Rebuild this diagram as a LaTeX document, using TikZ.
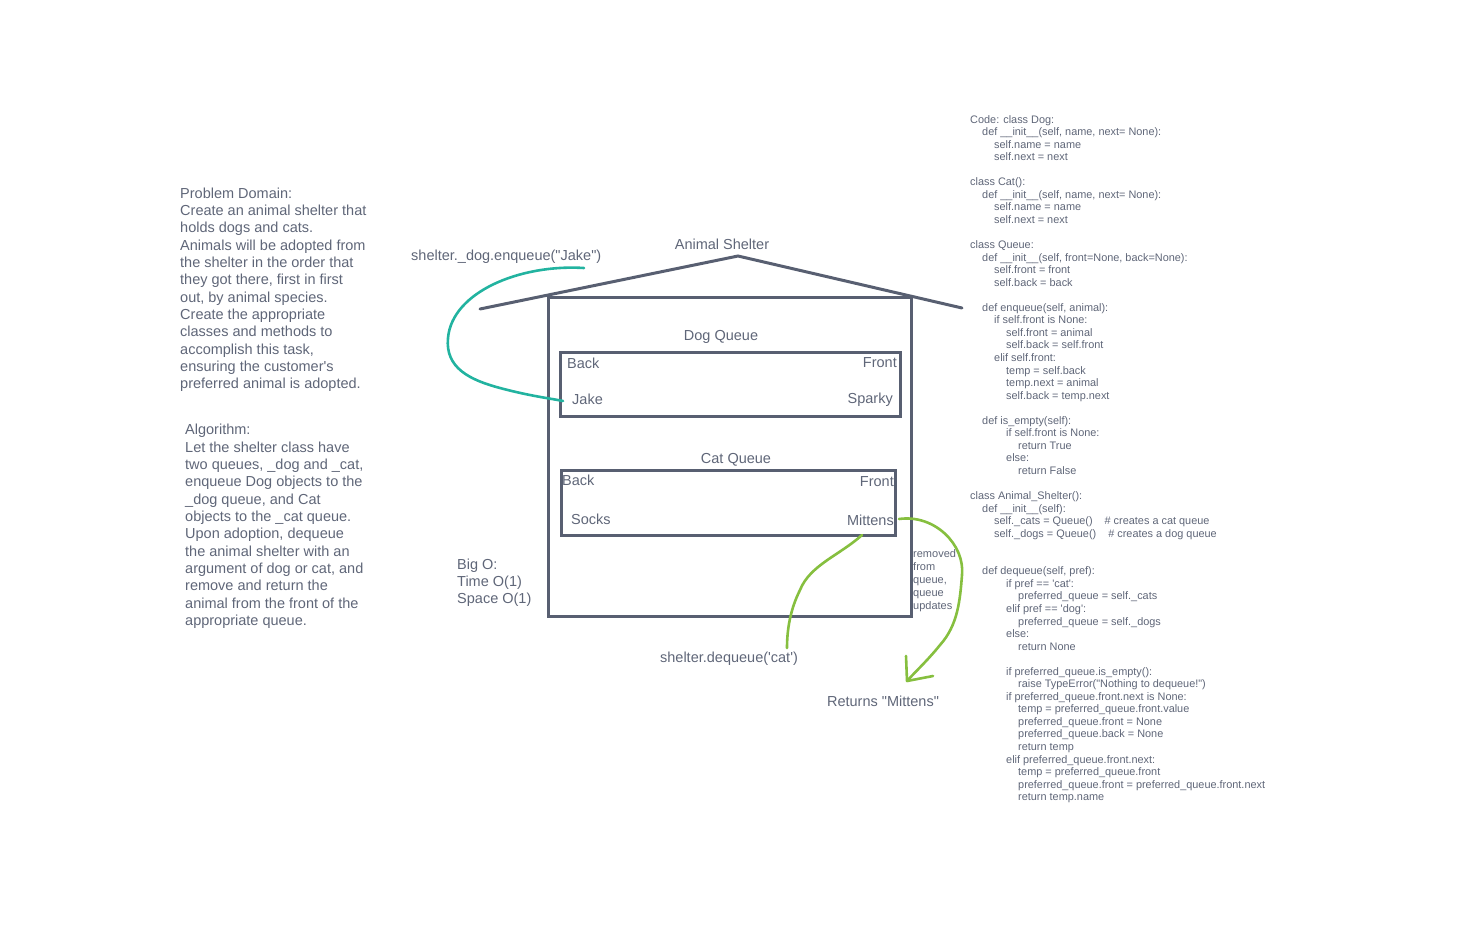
\documentclass[tikz,border=0pt]{standalone}
\usepackage{fontspec}
\setmainfont{Liberation Sans}[Ligatures=TeXOff]
\definecolor{ink}{HTML}{5F6678}
\definecolor{linec}{HTML}{585F71}
\definecolor{tealc}{HTML}{22B3A0}
\definecolor{greenc}{HTML}{86BF3F}
\tikzset{
  lbl/.style={inner sep=0pt, text=ink, font=\fontsize{14.5}{17.35}\selectfont, anchor=base},
  para/.style={inner sep=0pt, text=ink, font=\fontsize{14.5}{17.35}\selectfont, align=left, anchor=base west},
  code/.style={inner sep=0pt, text=ink, font=\fontsize{10.9}{12.55}\selectfont, anchor=base west},
  note/.style={inner sep=0pt, text=ink, font=\fontsize{11}{13}\selectfont, align=left, anchor=base west},
  wall/.style={draw=linec, line width=3pt},
  qbox/.style={draw=linec, line width=3pt, inner sep=0pt, outer sep=0pt, anchor=north west},
  tealpen/.style={draw=tealc, line width=2.6pt, line cap=round, line join=round},
  greenpen/.style={draw=greenc, line width=2.6pt, line cap=round, line join=round},
}
\newcommand\cl[3]{\node[code] (code#1) at ({970+12*#2},{123+12.55*#1}) {#3};}
\begin{document}
\begin{tikzpicture}[x=1pt,y=-1pt]
\useasboundingbox (0,0) rectangle (1471,927);
% left texts (base anchor = baseline of last line)
\node[para] (problem) at (180,388.9) {Problem Domain:\\Create an animal shelter that\\holds dogs and cats.\\Animals will be adopted from\\the shelter in the order that\\they got there, first in first\\out, by animal species.\\Create the appropriate\\classes and methods to\\accomplish this task,\\ensuring the customer's\\preferred animal is adopted.};
\node[para] (algo) at (185,625.5) {Algorithm:\\Let the shelter class have\\two queues, \_dog and \_cat,\\enqueue Dog objects to the\\\_dog queue, and Cat\\objects to the \_cat queue.\\Upon adoption, dequeue\\the animal shelter with an\\argument of dog or cat, and\\remove and return the\\animal from the front of the\\appropriate queue.};
% house
\coordinate (roofL) at (480,309);
\coordinate (peak) at (738,256);
\coordinate (roofR) at (962,308);
\draw[wall, line cap=round] (roofL) -- (peak) -- (roofR);
\node[qbox, minimum width=363pt, minimum height=319pt] (house) at (548,297.5) {};
\node[lbl] (title) at (722,249) {Animal Shelter};
% dog queue
\node[lbl] (dogq) at (721,340) {Dog Queue};
\node[qbox, minimum width=340pt, minimum height=64pt] (dogbox) at (560.5,352.5) {};
\node[lbl, anchor=base west] (dback) at (567,368) {Back};
\node[lbl, anchor=base east] (dfront) at (897,367) {Front};
\node[lbl, anchor=base west] (jake) at (572,404) {Jake};
\node[lbl, anchor=base east] (sparky) at (893,403) {Sparky};
% cat queue
\node[lbl] (catq) at (736,463) {Cat Queue};
\node[qbox, minimum width=334pt, minimum height=65pt] (catbox) at (561.5,470) {};
\node[lbl, anchor=base west] (cback) at (562,485) {Back};
\node[lbl, anchor=base east] (cfront) at (894,486) {Front};
\node[lbl, anchor=base west] (socks) at (571,524) {Socks};
\node[lbl, anchor=base east] (mittens) at (894,525) {Mittens};
% big O
\node[para] (bigo) at (457,603.7) {Big O:\\Time O(1)\\Space O(1)};
% labels
\node[lbl, anchor=base west] (enq) at (411,260) {shelter.\_dog.enqueue("Jake")};
\node[lbl] (deq) at (729,662) {shelter.dequeue('cat')};
\node[lbl] (ret) at (883,706) {Returns "Mittens"};
\node[note] (removed) at (913,609) {removed\\from\\queue,\\queue\\updates};
% teal connector
\coordinate (t0) at (584,268);
\coordinate (t1) at (563,401);
\draw[tealpen] (t0) .. controls (520,264) and (452,292) .. (448,338)
  .. controls (445,368) and (470,380) .. (500,388)
  .. controls (530,396) and (548,398) .. (t1);
% green connector 1
\coordinate (g0) at (862,535);
\coordinate (g1) at (787,648);
\draw[greenpen] (g0) .. controls (840,555) and (810,565) .. (800,590)
  .. controls (790,610) and (787,630) .. (g1);
% green connector 2 with hand-drawn head
\coordinate (h0) at (899,519);
\coordinate (h1) at (907,681);
\coordinate (hA) at (906,656);
\coordinate (hB) at (933,676);
\draw[greenpen] (h0) .. controls (935,514) and (965,545) .. (962,575)
  .. controls (960,600) and (958,625) .. (940,645)
  .. controls (928,660) and (915,672) .. (h1);
\draw[greenpen] (hA) -- (h1) -- (hB);
% code
\cl{0}{0}{Code: class Dog:}
\cl{1}{1}{def \_\_init\_\_(self, name, next= None):}
\cl{2}{2}{self.name = name}
\cl{3}{2}{self.next = next}
\cl{5}{0}{class Cat():}
\cl{6}{1}{def \_\_init\_\_(self, name, next= None):}
\cl{7}{2}{self.name = name}
\cl{8}{2}{self.next = next}
\cl{10}{0}{class Queue:}
\cl{11}{1}{def \_\_init\_\_(self, front=None, back=None):}
\cl{12}{2}{self.front = front}
\cl{13}{2}{self.back = back}
\cl{15}{1}{def enqueue(self, animal):}
\cl{16}{2}{if self.front is None:}
\cl{17}{3}{self.front = animal}
\cl{18}{3}{self.back = self.front}
\cl{19}{2}{elif self.front:}
\cl{20}{3}{temp = self.back}
\cl{21}{3}{temp.next = animal}
\cl{22}{3}{self.back = temp.next}
\cl{24}{1}{def is\_empty(self):}
\cl{25}{3}{if self.front is None:}
\cl{26}{4}{return True}
\cl{27}{3}{else:}
\cl{28}{4}{return False}
\cl{30}{0}{class Animal\_Shelter():}
\cl{31}{1}{def \_\_init\_\_(self):}
\cl{32}{2}{self.\_cats = Queue()\hspace{12pt}\# creates a cat queue}
\cl{33}{2}{self.\_dogs = Queue()\hspace{12pt}\# creates a dog queue}
\cl{36}{1}{def dequeue(self, pref):}
\cl{37}{3}{if pref == 'cat':}
\cl{38}{4}{preferred\_queue = self.\_cats}
\cl{39}{3}{elif pref == 'dog':}
\cl{40}{4}{preferred\_queue = self.\_dogs}
\cl{41}{3}{else:}
\cl{42}{4}{return None}
\cl{44}{3}{if preferred\_queue.is\_empty():}
\cl{45}{4}{raise TypeError("Nothing to dequeue!")}
\cl{46}{3}{if preferred\_queue.front.next is None:}
\cl{47}{4}{temp = preferred\_queue.front.value}
\cl{48}{4}{preferred\_queue.front = None}
\cl{49}{4}{preferred\_queue.back = None}
\cl{50}{4}{return temp}
\cl{51}{3}{elif preferred\_queue.front.next:}
\cl{52}{4}{temp = preferred\_queue.front}
\cl{53}{4}{preferred\_queue.front = preferred\_queue.front.next}
\cl{54}{4}{return temp.name}
\end{tikzpicture}
\end{document}
